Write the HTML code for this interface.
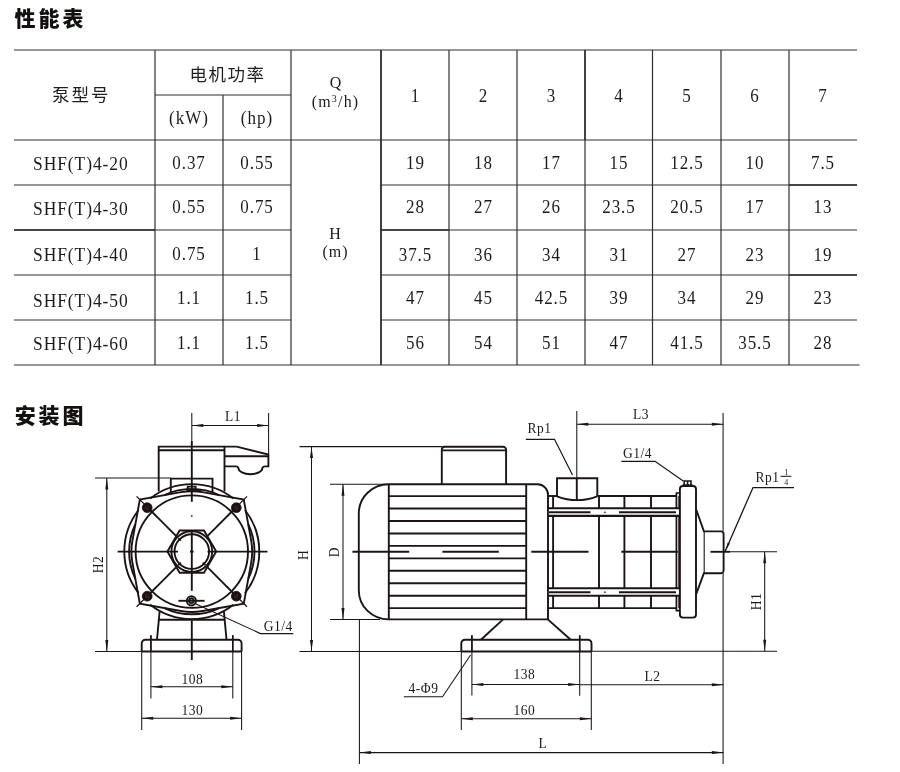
<!DOCTYPE html>
<html lang="zh"><head><meta charset="utf-8"><title>性能表 安装图</title>
<style>
html,body{margin:0;padding:0;background:#fff;}
body{width:900px;height:772px;overflow:hidden;position:relative;}
svg{position:absolute;left:0;top:0;display:block;will-change:transform;}
.s{font-family:"Liberation Serif","Noto Serif CJK SC",serif;fill:#1e1a1a;}
.c{font-family:"Liberation Sans","Noto Sans CJK SC",sans-serif;fill:#221e1e;}
.h{font-family:"Liberation Sans","Noto Sans CJK SC",sans-serif;font-weight:900;fill:#151010;}
</style></head><body>
<svg width="900" height="772" viewBox="0 0 900 772">
<rect width="900" height="772" fill="#fff"/>
<text class="h" x="14.6" y="26.2" font-size="21" letter-spacing="2.9">性能表</text>
<text class="h" x="14.7" y="423.1" font-size="21" letter-spacing="2.9">安装图</text>
<line x1="14.00" y1="50.00" x2="857.00" y2="50.00" stroke="#322e2e" stroke-width="1.2" />
<line x1="155.00" y1="95.00" x2="291.00" y2="95.00" stroke="#322e2e" stroke-width="1.2" />
<line x1="14.00" y1="140.00" x2="857.00" y2="140.00" stroke="#322e2e" stroke-width="1.2" />
<line x1="14.00" y1="185.00" x2="291.00" y2="185.00" stroke="#322e2e" stroke-width="1.2" />
<line x1="381.00" y1="185.00" x2="857.00" y2="185.00" stroke="#322e2e" stroke-width="1.2" />
<line x1="14.00" y1="230.00" x2="291.00" y2="230.00" stroke="#322e2e" stroke-width="1.2" />
<line x1="381.00" y1="230.00" x2="857.00" y2="230.00" stroke="#322e2e" stroke-width="1.2" />
<line x1="14.00" y1="275.00" x2="291.00" y2="275.00" stroke="#322e2e" stroke-width="1.2" />
<line x1="381.00" y1="275.00" x2="857.00" y2="275.00" stroke="#322e2e" stroke-width="1.2" />
<line x1="14.00" y1="320.00" x2="291.00" y2="320.00" stroke="#322e2e" stroke-width="1.2" />
<line x1="381.00" y1="320.00" x2="857.00" y2="320.00" stroke="#322e2e" stroke-width="1.2" />
<line x1="14.00" y1="365.00" x2="859.50" y2="365.00" stroke="#322e2e" stroke-width="1.2" />
<line x1="155.00" y1="50.00" x2="155.00" y2="365.00" stroke="#322e2e" stroke-width="1.2" />
<line x1="223.00" y1="95.00" x2="223.00" y2="365.00" stroke="#322e2e" stroke-width="1.2" />
<line x1="291.00" y1="50.00" x2="291.00" y2="365.00" stroke="#322e2e" stroke-width="1.2" />
<line x1="381.00" y1="50.00" x2="381.00" y2="365.00" stroke="#322e2e" stroke-width="1.2" />
<line x1="449.00" y1="50.00" x2="449.00" y2="365.00" stroke="#322e2e" stroke-width="1.2" />
<line x1="517.00" y1="50.00" x2="517.00" y2="365.00" stroke="#322e2e" stroke-width="1.2" />
<line x1="585.00" y1="50.00" x2="585.00" y2="365.00" stroke="#322e2e" stroke-width="1.2" />
<line x1="652.50" y1="50.00" x2="652.50" y2="365.00" stroke="#322e2e" stroke-width="1.2" />
<line x1="721.00" y1="50.00" x2="721.00" y2="365.00" stroke="#322e2e" stroke-width="1.2" />
<line x1="789.00" y1="50.00" x2="789.00" y2="365.00" stroke="#322e2e" stroke-width="1.2" />
<line x1="381.00" y1="50.00" x2="381.00" y2="365.00" stroke="#2e2a2a" stroke-width="1.5" />
<line x1="585.00" y1="50.00" x2="585.00" y2="140.00" stroke="#2e2a2a" stroke-width="1.4" />
<line x1="14.00" y1="230.00" x2="155.00" y2="230.00" stroke="#2e2a2a" stroke-width="1.5" />
<line x1="381.00" y1="230.00" x2="449.00" y2="230.00" stroke="#2e2a2a" stroke-width="1.5" />
<line x1="789.00" y1="185.00" x2="857.00" y2="185.00" stroke="#2e2a2a" stroke-width="1.5" />
<line x1="789.00" y1="275.00" x2="857.00" y2="275.00" stroke="#2e2a2a" stroke-width="1.5" />
<text class="c" transform="translate(81.20 100.50)" font-size="17.5" text-anchor="middle" letter-spacing="2" >泵型号</text>
<text class="c" transform="translate(227.60 81.00)" font-size="17.5" text-anchor="middle" letter-spacing="1.5" >电机功率</text>
<text class="s" transform="translate(189.00 124.00) scale(1 1.06)" font-size="17" text-anchor="middle" letter-spacing="1.0" >(kW)</text>
<text class="s" transform="translate(257.00 124.00) scale(1 1.06)" font-size="17" text-anchor="middle" letter-spacing="1.0" >(hp)</text>
<text class="s" transform="translate(336.00 88.00) scale(1 1.06)" font-size="16" text-anchor="middle" letter-spacing="1.0" >Q</text>
<text class="s" transform="translate(335.5 107) scale(1 1.06)" font-size="16" text-anchor="middle" letter-spacing="1.2">(m<tspan font-size="10" dy="-5">3</tspan><tspan dy="5">/h)</tspan></text>
<text class="s" transform="translate(335.50 239.00) scale(1 1.06)" font-size="16" text-anchor="middle" letter-spacing="1.0" >H</text>
<text class="s" transform="translate(335.50 256.50) scale(1 1.06)" font-size="16" text-anchor="middle" letter-spacing="1.0" >(m)</text>
<text class="s" transform="translate(415.50 102.00) scale(1 1.06)" font-size="17" text-anchor="middle" letter-spacing="1.0" >1</text>
<text class="s" transform="translate(483.50 102.00) scale(1 1.06)" font-size="17" text-anchor="middle" letter-spacing="1.0" >2</text>
<text class="s" transform="translate(551.50 102.00) scale(1 1.06)" font-size="17" text-anchor="middle" letter-spacing="1.0" >3</text>
<text class="s" transform="translate(619.00 102.00) scale(1 1.06)" font-size="17" text-anchor="middle" letter-spacing="1.0" >4</text>
<text class="s" transform="translate(687.00 102.00) scale(1 1.06)" font-size="17" text-anchor="middle" letter-spacing="1.0" >5</text>
<text class="s" transform="translate(755.00 102.00) scale(1 1.06)" font-size="17" text-anchor="middle" letter-spacing="1.0" >6</text>
<text class="s" transform="translate(823.00 102.00) scale(1 1.06)" font-size="17" text-anchor="middle" letter-spacing="1.0" >7</text>
<text class="s" transform="translate(80.80 170.00) scale(1 1.06)" font-size="17.5" text-anchor="middle" letter-spacing="0.9" >SHF(T)4-20</text>
<text class="s" transform="translate(189.00 169.00) scale(1 1.06)" font-size="17" text-anchor="middle" letter-spacing="1.0" >0.37</text>
<text class="s" transform="translate(257.00 169.00) scale(1 1.06)" font-size="17" text-anchor="middle" letter-spacing="1.0" >0.55</text>
<text class="s" transform="translate(415.50 169.00) scale(1 1.06)" font-size="17" text-anchor="middle" letter-spacing="1.0" >19</text>
<text class="s" transform="translate(483.50 169.00) scale(1 1.06)" font-size="17" text-anchor="middle" letter-spacing="1.0" >18</text>
<text class="s" transform="translate(551.50 169.00) scale(1 1.06)" font-size="17" text-anchor="middle" letter-spacing="1.0" >17</text>
<text class="s" transform="translate(619.00 169.00) scale(1 1.06)" font-size="17" text-anchor="middle" letter-spacing="1.0" >15</text>
<text class="s" transform="translate(687.00 169.00) scale(1 1.06)" font-size="17" text-anchor="middle" letter-spacing="1.0" >12.5</text>
<text class="s" transform="translate(755.00 169.00) scale(1 1.06)" font-size="17" text-anchor="middle" letter-spacing="1.0" >10</text>
<text class="s" transform="translate(823.00 169.00) scale(1 1.06)" font-size="17" text-anchor="middle" letter-spacing="1.0" >7.5</text>
<text class="s" transform="translate(80.80 215.00) scale(1 1.06)" font-size="17.5" text-anchor="middle" letter-spacing="0.9" >SHF(T)4-30</text>
<text class="s" transform="translate(189.00 213.00) scale(1 1.06)" font-size="17" text-anchor="middle" letter-spacing="1.0" >0.55</text>
<text class="s" transform="translate(257.00 213.00) scale(1 1.06)" font-size="17" text-anchor="middle" letter-spacing="1.0" >0.75</text>
<text class="s" transform="translate(415.50 213.00) scale(1 1.06)" font-size="17" text-anchor="middle" letter-spacing="1.0" >28</text>
<text class="s" transform="translate(483.50 213.00) scale(1 1.06)" font-size="17" text-anchor="middle" letter-spacing="1.0" >27</text>
<text class="s" transform="translate(551.50 213.00) scale(1 1.06)" font-size="17" text-anchor="middle" letter-spacing="1.0" >26</text>
<text class="s" transform="translate(619.00 213.00) scale(1 1.06)" font-size="17" text-anchor="middle" letter-spacing="1.0" >23.5</text>
<text class="s" transform="translate(687.00 213.00) scale(1 1.06)" font-size="17" text-anchor="middle" letter-spacing="1.0" >20.5</text>
<text class="s" transform="translate(755.00 213.00) scale(1 1.06)" font-size="17" text-anchor="middle" letter-spacing="1.0" >17</text>
<text class="s" transform="translate(823.00 213.00) scale(1 1.06)" font-size="17" text-anchor="middle" letter-spacing="1.0" >13</text>
<text class="s" transform="translate(80.80 261.00) scale(1 1.06)" font-size="17.5" text-anchor="middle" letter-spacing="0.9" >SHF(T)4-40</text>
<text class="s" transform="translate(189.00 259.50) scale(1 1.06)" font-size="17" text-anchor="middle" letter-spacing="1.0" >0.75</text>
<text class="s" transform="translate(257.00 259.50) scale(1 1.06)" font-size="17" text-anchor="middle" letter-spacing="1.0" >1</text>
<text class="s" transform="translate(415.50 261.00) scale(1 1.06)" font-size="17" text-anchor="middle" letter-spacing="1.0" >37.5</text>
<text class="s" transform="translate(483.50 261.00) scale(1 1.06)" font-size="17" text-anchor="middle" letter-spacing="1.0" >36</text>
<text class="s" transform="translate(551.50 261.00) scale(1 1.06)" font-size="17" text-anchor="middle" letter-spacing="1.0" >34</text>
<text class="s" transform="translate(619.00 261.00) scale(1 1.06)" font-size="17" text-anchor="middle" letter-spacing="1.0" >31</text>
<text class="s" transform="translate(687.00 261.00) scale(1 1.06)" font-size="17" text-anchor="middle" letter-spacing="1.0" >27</text>
<text class="s" transform="translate(755.00 261.00) scale(1 1.06)" font-size="17" text-anchor="middle" letter-spacing="1.0" >23</text>
<text class="s" transform="translate(823.00 261.00) scale(1 1.06)" font-size="17" text-anchor="middle" letter-spacing="1.0" >19</text>
<text class="s" transform="translate(80.80 306.75) scale(1 1.06)" font-size="17.5" text-anchor="middle" letter-spacing="0.9" >SHF(T)4-50</text>
<text class="s" transform="translate(189.00 304.00) scale(1 1.06)" font-size="17" text-anchor="middle" letter-spacing="1.0" >1.1</text>
<text class="s" transform="translate(257.00 304.00) scale(1 1.06)" font-size="17" text-anchor="middle" letter-spacing="1.0" >1.5</text>
<text class="s" transform="translate(415.50 303.50) scale(1 1.06)" font-size="17" text-anchor="middle" letter-spacing="1.0" >47</text>
<text class="s" transform="translate(483.50 303.50) scale(1 1.06)" font-size="17" text-anchor="middle" letter-spacing="1.0" >45</text>
<text class="s" transform="translate(551.50 303.50) scale(1 1.06)" font-size="17" text-anchor="middle" letter-spacing="1.0" >42.5</text>
<text class="s" transform="translate(619.00 303.50) scale(1 1.06)" font-size="17" text-anchor="middle" letter-spacing="1.0" >39</text>
<text class="s" transform="translate(687.00 303.50) scale(1 1.06)" font-size="17" text-anchor="middle" letter-spacing="1.0" >34</text>
<text class="s" transform="translate(755.00 303.50) scale(1 1.06)" font-size="17" text-anchor="middle" letter-spacing="1.0" >29</text>
<text class="s" transform="translate(823.00 303.50) scale(1 1.06)" font-size="17" text-anchor="middle" letter-spacing="1.0" >23</text>
<text class="s" transform="translate(80.80 349.50) scale(1 1.06)" font-size="17.5" text-anchor="middle" letter-spacing="0.9" >SHF(T)4-60</text>
<text class="s" transform="translate(189.00 348.50) scale(1 1.06)" font-size="17" text-anchor="middle" letter-spacing="1.0" >1.1</text>
<text class="s" transform="translate(257.00 348.50) scale(1 1.06)" font-size="17" text-anchor="middle" letter-spacing="1.0" >1.5</text>
<text class="s" transform="translate(415.50 348.50) scale(1 1.06)" font-size="17" text-anchor="middle" letter-spacing="1.0" >56</text>
<text class="s" transform="translate(483.50 348.50) scale(1 1.06)" font-size="17" text-anchor="middle" letter-spacing="1.0" >54</text>
<text class="s" transform="translate(551.50 348.50) scale(1 1.06)" font-size="17" text-anchor="middle" letter-spacing="1.0" >51</text>
<text class="s" transform="translate(619.00 348.50) scale(1 1.06)" font-size="17" text-anchor="middle" letter-spacing="1.0" >47</text>
<text class="s" transform="translate(687.00 348.50) scale(1 1.06)" font-size="17" text-anchor="middle" letter-spacing="1.0" >41.5</text>
<text class="s" transform="translate(755.00 348.50) scale(1 1.06)" font-size="17" text-anchor="middle" letter-spacing="1.0" >35.5</text>
<text class="s" transform="translate(823.00 348.50) scale(1 1.06)" font-size="17" text-anchor="middle" letter-spacing="1.0" >28</text>
<line x1="191.80" y1="413.00" x2="191.80" y2="441.00" stroke="#1c1414" stroke-width="1.05" />
<line x1="268.60" y1="413.00" x2="268.60" y2="454.00" stroke="#1c1414" stroke-width="1.05" />
<line x1="191.80" y1="425.50" x2="268.60" y2="425.50" stroke="#1c1414" stroke-width="1.05" />
<polygon points="191.80,425.50 203.30,424.00 203.30,427.00" fill="#1c1414"/>
<polygon points="268.60,425.50 257.10,427.00 257.10,424.00" fill="#1c1414"/>
<text class="s" transform="translate(233.00 421.00) scale(1 1.09)" font-size="13.5" text-anchor="middle" letter-spacing="0.5" >L1</text>
<path d="M158.7,491.5 V446.6 H236.7 L268.4,454.5 V466.4 H265.3 Q262.9,466.4 262.4,468 A12,6.2 0 0 1 238.4,468 Q237.9,466.4 235.5,466.4 H224.5" stroke="#1c1414" stroke-width="1.9" fill="none" />
<line x1="158.70" y1="450.20" x2="224.50" y2="450.20" stroke="#1c1414" stroke-width="1.9" />
<line x1="224.50" y1="446.60" x2="224.50" y2="491.50" stroke="#1c1414" stroke-width="1.9" />
<line x1="224.50" y1="456.20" x2="268.40" y2="456.20" stroke="#1c1414" stroke-width="1.9" />
<path d="M170.8,492.5 V478.6 H212.5 V492.5" stroke="#1c1414" stroke-width="1.9" fill="none" />
<line x1="191.80" y1="441.00" x2="191.80" y2="501.80" stroke="#1c1414" stroke-width="1.9" />
<circle cx="191.80" cy="516.00" r="0.60" stroke="#1c1414" stroke-width="0.6" fill="#1c1414"/>
<line x1="191.80" y1="530.70" x2="191.80" y2="590.80" stroke="#1c1414" stroke-width="1.9" />
<line x1="191.80" y1="620.30" x2="191.80" y2="660.00" stroke="#1c1414" stroke-width="1.9" />
<line x1="117.60" y1="551.60" x2="178.00" y2="551.60" stroke="#1c1414" stroke-width="1.9" />
<line x1="190.00" y1="551.60" x2="193.60" y2="551.60" stroke="#1c1414" stroke-width="1.9" />
<line x1="207.50" y1="551.60" x2="267.50" y2="551.60" stroke="#1c1414" stroke-width="1.9" />
<circle cx="191.80" cy="551.60" r="56.20" stroke="#1c1414" stroke-width="1.9" fill="none"/>
<path d="M251.23,540.84 L243.77,499.63 L202.56,492.17 A60.4,60.4 0 0 0 181.04,492.17 L139.83,499.63 L132.37,540.84 A60.4,60.4 0 0 0 132.37,562.36 L139.83,603.57 L181.04,611.03 A60.4,60.4 0 0 0 202.56,611.03 L243.77,603.57 L251.23,562.36 A60.4,60.4 0 0 0 251.23,540.84 Z" stroke="#1c1414" stroke-width="1.9" fill="none" />
<path d="M244.99,593.16 A67.5,67.5 0 0 0 244.99,510.04" stroke="#1c1414" stroke-width="1.9" fill="none" />
<path d="M138.61,510.04 A67.5,67.5 0 0 0 138.61,593.16" stroke="#1c1414" stroke-width="1.9" fill="none" />
<path d="M233.36,498.41 A67.5,67.5 0 0 0 150.24,498.41" stroke="#1c1414" stroke-width="1.9" fill="none" />
<path d="M150.24,604.79 A67.5,67.5 0 0 0 233.36,604.79" stroke="#1c1414" stroke-width="1.9" fill="none" />
<path d="M248.24,578.92 A62.7,62.7 0 0 0 248.24,524.28" stroke="#1c1414" stroke-width="1.9" fill="none" />
<path d="M219.12,495.16 A62.7,62.7 0 0 0 164.48,495.16" stroke="#1c1414" stroke-width="1.9" fill="none" />
<path d="M135.36,524.28 A62.7,62.7 0 0 0 135.36,578.92" stroke="#1c1414" stroke-width="1.9" fill="none" />
<path d="M164.48,608.04 A62.7,62.7 0 0 0 219.12,608.04" stroke="#1c1414" stroke-width="1.9" fill="none" />
<circle cx="147.20" cy="507.70" r="4.90" stroke="#1c1414" stroke-width="0.8" fill="#1c1012"/>
<circle cx="147.20" cy="507.70" r="1.50" stroke="#5a4c4c" stroke-width="0.7" fill="none"/>
<circle cx="236.30" cy="507.70" r="4.90" stroke="#1c1414" stroke-width="0.8" fill="#1c1012"/>
<circle cx="236.30" cy="507.70" r="1.50" stroke="#5a4c4c" stroke-width="0.7" fill="none"/>
<circle cx="147.20" cy="596.20" r="4.90" stroke="#1c1414" stroke-width="0.8" fill="#1c1012"/>
<circle cx="147.20" cy="596.20" r="1.50" stroke="#5a4c4c" stroke-width="0.7" fill="none"/>
<circle cx="236.30" cy="596.20" r="4.90" stroke="#1c1414" stroke-width="0.8" fill="#1c1012"/>
<circle cx="236.30" cy="596.20" r="1.50" stroke="#5a4c4c" stroke-width="0.7" fill="none"/>
<line x1="176.00" y1="535.80" x2="150.30" y2="510.10" stroke="#1c1414" stroke-width="1.9" />
<line x1="156.80" y1="516.60" x2="136.60" y2="496.40" stroke="#1c1414" stroke-width="1.25" />
<line x1="207.60" y1="535.80" x2="233.30" y2="510.10" stroke="#1c1414" stroke-width="1.9" />
<line x1="226.80" y1="516.60" x2="247.00" y2="496.40" stroke="#1c1414" stroke-width="1.25" />
<line x1="176.00" y1="567.40" x2="150.30" y2="593.10" stroke="#1c1414" stroke-width="1.9" />
<line x1="156.80" y1="586.60" x2="136.60" y2="606.80" stroke="#1c1414" stroke-width="1.25" />
<line x1="207.60" y1="567.40" x2="233.30" y2="593.10" stroke="#1c1414" stroke-width="1.9" />
<line x1="226.80" y1="586.60" x2="247.00" y2="606.80" stroke="#1c1414" stroke-width="1.25" />
<path d="M216.20,551.60 L204.00,530.47 L179.60,530.47 L167.40,551.60 L179.60,572.73 L204.00,572.73Z" stroke="#1c1414" stroke-width="1.9" fill="none" />
<circle cx="191.80" cy="551.60" r="20.40" stroke="#1c1414" stroke-width="1.9" fill="none"/>
<circle cx="191.80" cy="551.60" r="17.30" stroke="#1c1414" stroke-width="1.9" fill="none"/>
<line x1="180.80" y1="562.60" x2="178.30" y2="565.10" stroke="#1c1414" stroke-width="1.9" />
<line x1="202.80" y1="562.60" x2="205.30" y2="565.10" stroke="#1c1414" stroke-width="1.9" />
<line x1="180.80" y1="540.60" x2="178.30" y2="538.10" stroke="#1c1414" stroke-width="1.9" />
<path d="M186.5,490.3 H201.5 M187.7,490.3 V486.6 H195.6 V490.3" stroke="#1c1414" stroke-width="1.9" fill="none" />
<circle cx="191.40" cy="600.80" r="4.60" stroke="#1c1414" stroke-width="1.9" fill="none"/>
<circle cx="191.40" cy="600.80" r="2.30" stroke="#1c1414" stroke-width="1.9" fill="none"/>
<line x1="178.40" y1="600.80" x2="204.60" y2="600.80" stroke="#1c1414" stroke-width="1.9" />
<line x1="159.60" y1="611.50" x2="157.00" y2="639.50" stroke="#1c1414" stroke-width="1.9" />
<line x1="223.90" y1="611.50" x2="226.50" y2="639.50" stroke="#1c1414" stroke-width="1.9" />
<line x1="158.80" y1="619.70" x2="224.60" y2="619.70" stroke="#1c1414" stroke-width="1.9" />
<path d="M141.7,651.5 V643.4 A3.6,3.6 0 0 1 145.3,639.7 H238 A3.6,3.6 0 0 1 241.6,643.4 V651.5" stroke="#1c1414" stroke-width="1.9" fill="none" />
<line x1="141.70" y1="651.50" x2="241.60" y2="651.50" stroke="#1c1414" stroke-width="1.9" />
<line x1="150.90" y1="635.30" x2="150.90" y2="698.50" stroke="#1c1414" stroke-width="1.05" />
<line x1="232.80" y1="635.30" x2="232.80" y2="698.50" stroke="#1c1414" stroke-width="1.05" />
<line x1="150.90" y1="635.30" x2="150.90" y2="652.00" stroke="#1c1414" stroke-width="1.5999999999999999" />
<line x1="232.80" y1="635.30" x2="232.80" y2="652.00" stroke="#1c1414" stroke-width="1.5999999999999999" />
<line x1="150.90" y1="686.70" x2="232.80" y2="686.70" stroke="#1c1414" stroke-width="1.05" />
<polygon points="150.90,686.70 162.40,685.20 162.40,688.20" fill="#1c1414"/>
<polygon points="232.80,686.70 221.30,688.20 221.30,685.20" fill="#1c1414"/>
<text class="s" transform="translate(192.30 683.70) scale(1 1.09)" font-size="13.5" text-anchor="middle" letter-spacing="0.5" >108</text>
<line x1="141.70" y1="651.50" x2="141.70" y2="730.00" stroke="#1c1414" stroke-width="1.05" />
<line x1="241.60" y1="651.50" x2="241.60" y2="730.00" stroke="#1c1414" stroke-width="1.05" />
<line x1="141.70" y1="718.20" x2="241.60" y2="718.20" stroke="#1c1414" stroke-width="1.05" />
<polygon points="141.70,718.20 153.20,716.70 153.20,719.70" fill="#1c1414"/>
<polygon points="241.60,718.20 230.10,719.70 230.10,716.70" fill="#1c1414"/>
<text class="s" transform="translate(192.30 714.80) scale(1 1.09)" font-size="13.5" text-anchor="middle" letter-spacing="0.5" >130</text>
<line x1="95.00" y1="478.00" x2="170.90" y2="478.00" stroke="#1c1414" stroke-width="1.05" />
<line x1="95.00" y1="651.50" x2="141.70" y2="651.50" stroke="#1c1414" stroke-width="1.05" />
<line x1="106.80" y1="478.00" x2="106.80" y2="651.50" stroke="#1c1414" stroke-width="1.05" />
<polygon points="106.80,478.00 108.30,489.50 105.30,489.50" fill="#1c1414"/>
<polygon points="106.80,651.50 105.30,640.00 108.30,640.00" fill="#1c1414"/>
<text class="s" transform="translate(103.40 564.60) rotate(-90) scale(1 1.09)" font-size="13.5" text-anchor="middle" letter-spacing="0.5" >H2</text>
<path d="M195,603.5 L260.5,633.6 H293.3" stroke="#1c1414" stroke-width="1.05" fill="none" />
<text class="s" transform="translate(278.30 631.00) scale(1 1.09)" font-size="13.5" text-anchor="middle" letter-spacing="0.5" >G1/4</text>
<line x1="299.50" y1="446.60" x2="442.00" y2="446.60" stroke="#1c1414" stroke-width="1.05" />
<line x1="299.50" y1="651.40" x2="461.30" y2="651.40" stroke="#1c1414" stroke-width="1.05" />
<line x1="311.50" y1="446.60" x2="311.50" y2="651.40" stroke="#1c1414" stroke-width="1.05" />
<polygon points="311.50,446.60 313.00,458.10 310.00,458.10" fill="#1c1414"/>
<polygon points="311.50,651.40 310.00,639.90 313.00,639.90" fill="#1c1414"/>
<text class="s" transform="translate(308.00 555.20) rotate(-90) scale(1 1.09)" font-size="13.5" text-anchor="middle" letter-spacing="0" >H</text>
<line x1="330.00" y1="484.30" x2="388.80" y2="484.30" stroke="#1c1414" stroke-width="1.05" />
<line x1="330.00" y1="619.40" x2="380.00" y2="619.40" stroke="#1c1414" stroke-width="1.05" />
<line x1="343.00" y1="484.30" x2="343.00" y2="619.40" stroke="#1c1414" stroke-width="1.05" />
<polygon points="343.00,484.30 344.50,495.80 341.50,495.80" fill="#1c1414"/>
<polygon points="343.00,619.40 341.50,607.90 344.50,607.90" fill="#1c1414"/>
<text class="s" transform="translate(338.50 552.40) rotate(-90) scale(1 1.09)" font-size="13.5" text-anchor="middle" letter-spacing="0" >D</text>
<path d="M441.8,484.3 V449.7 A3,3 0 0 1 444.8,446.7 H503.1 A3,3 0 0 1 506.1,449.7 V484.3" stroke="#1c1414" stroke-width="1.9" fill="none" />
<line x1="441.80" y1="450.40" x2="506.10" y2="450.40" stroke="#1c1414" stroke-width="1.9" />
<path d="M388.8,484.3 H537.5 A10.5,10.5 0 0 1 548,494.8 V619.4 H388.8" stroke="#1c1414" stroke-width="1.9" fill="none" />
<path d="M388.8,484.3 A30,29 0 0 0 358.8,513.3 V590.4 A30,29 0 0 0 388.8,619.4" stroke="#1c1414" stroke-width="1.9" fill="none" />
<line x1="388.80" y1="484.30" x2="388.80" y2="619.40" stroke="#1c1414" stroke-width="1.9" />
<line x1="526.20" y1="484.30" x2="526.20" y2="619.40" stroke="#1c1414" stroke-width="1.9" />
<line x1="388.80" y1="496.10" x2="526.20" y2="496.10" stroke="#1c1414" stroke-width="1.9" />
<line x1="388.80" y1="508.55" x2="526.20" y2="508.55" stroke="#1c1414" stroke-width="1.9" />
<line x1="388.80" y1="521.00" x2="526.20" y2="521.00" stroke="#1c1414" stroke-width="1.9" />
<line x1="388.80" y1="533.45" x2="526.20" y2="533.45" stroke="#1c1414" stroke-width="1.9" />
<line x1="388.80" y1="545.90" x2="526.20" y2="545.90" stroke="#1c1414" stroke-width="1.9" />
<line x1="388.80" y1="558.35" x2="526.20" y2="558.35" stroke="#1c1414" stroke-width="1.9" />
<line x1="388.80" y1="570.80" x2="526.20" y2="570.80" stroke="#1c1414" stroke-width="1.9" />
<line x1="388.80" y1="583.25" x2="526.20" y2="583.25" stroke="#1c1414" stroke-width="1.9" />
<line x1="388.80" y1="595.70" x2="526.20" y2="595.70" stroke="#1c1414" stroke-width="1.9" />
<line x1="388.80" y1="608.15" x2="526.20" y2="608.15" stroke="#1c1414" stroke-width="1.9" />
<line x1="352.40" y1="551.80" x2="409.20" y2="551.80" stroke="#1c1414" stroke-width="1.9" />
<line x1="442.40" y1="551.80" x2="498.80" y2="551.80" stroke="#1c1414" stroke-width="1.9" />
<line x1="531.30" y1="551.80" x2="588.50" y2="551.80" stroke="#1c1414" stroke-width="1.9" />
<line x1="621.30" y1="551.80" x2="677.80" y2="551.80" stroke="#1c1414" stroke-width="1.9" />
<line x1="710.50" y1="551.80" x2="730.00" y2="551.80" stroke="#1c1414" stroke-width="1.9" />
<line x1="730.00" y1="551.80" x2="777.00" y2="551.80" stroke="#1c1414" stroke-width="1.05" />
<line x1="503.10" y1="619.40" x2="480.90" y2="639.70" stroke="#1c1414" stroke-width="1.9" />
<line x1="547.80" y1="619.40" x2="570.70" y2="639.70" stroke="#1c1414" stroke-width="1.9" />
<path d="M461.3,651.5 V643.4 A3.7,3.7 0 0 1 465,639.7 H587.8 A3.7,3.7 0 0 1 591.5,643.4 V651.5" stroke="#1c1414" stroke-width="1.9" fill="none" />
<line x1="461.30" y1="651.50" x2="591.50" y2="651.50" stroke="#1c1414" stroke-width="1.9" />
<line x1="548.00" y1="496.00" x2="557.00" y2="496.00" stroke="#1c1414" stroke-width="1.9" />
<line x1="597.30" y1="496.00" x2="676.60" y2="496.00" stroke="#1c1414" stroke-width="1.9" />
<line x1="548.00" y1="608.10" x2="676.60" y2="608.10" stroke="#1c1414" stroke-width="1.9" />
<line x1="553.10" y1="496.00" x2="553.10" y2="608.10" stroke="#1c1414" stroke-width="1.9" />
<path d="M679.9,493 H676.4 V610.6 H679.9" stroke="#1c1414" stroke-width="1.7" fill="none" />
<line x1="678.40" y1="496.00" x2="678.40" y2="608.00" stroke="#1c1414" stroke-width="0.8" />
<line x1="599.00" y1="496.00" x2="599.00" y2="608.10" stroke="#1c1414" stroke-width="1.9" />
<line x1="624.40" y1="496.00" x2="624.40" y2="608.10" stroke="#1c1414" stroke-width="1.9" />
<line x1="651.00" y1="496.00" x2="651.00" y2="608.10" stroke="#1c1414" stroke-width="1.9" />
<rect x="548.9" y="508.3" width="131" height="7.6" fill="#fff" stroke="none"/>
<line x1="548.00" y1="508.30" x2="679.90" y2="508.30" stroke="#1c1414" stroke-width="2.1" />
<line x1="548.00" y1="515.90" x2="679.90" y2="515.90" stroke="#1c1414" stroke-width="2.1" />
<line x1="549.00" y1="512.30" x2="590.50" y2="512.30" stroke="#1c1414" stroke-width="1.9" />
<line x1="619.00" y1="512.30" x2="676.00" y2="512.30" stroke="#1c1414" stroke-width="1.9" />
<circle cx="604.90" cy="512.30" r="0.60" stroke="#1c1414" stroke-width="0.5" fill="#1c1414"/>
<rect x="548.9" y="588.2" width="131" height="7.6" fill="#fff" stroke="none"/>
<line x1="548.00" y1="588.20" x2="679.90" y2="588.20" stroke="#1c1414" stroke-width="2.1" />
<line x1="548.00" y1="595.80" x2="679.90" y2="595.80" stroke="#1c1414" stroke-width="2.1" />
<line x1="549.00" y1="592.20" x2="590.50" y2="592.20" stroke="#1c1414" stroke-width="1.9" />
<line x1="619.00" y1="592.20" x2="676.00" y2="592.20" stroke="#1c1414" stroke-width="1.9" />
<circle cx="604.90" cy="592.20" r="0.60" stroke="#1c1414" stroke-width="0.5" fill="#1c1414"/>
<path d="M557,496.3 V478.2 H597.3 V496.3" stroke="#1c1414" stroke-width="1.9" fill="none" />
<path d="M557,496.3 Q577,504 597.3,496.3" stroke="#1c1414" stroke-width="1.9" fill="none" />
<line x1="576.80" y1="411.00" x2="576.80" y2="478.00" stroke="#1c1414" stroke-width="1.05" />
<line x1="576.80" y1="478.00" x2="576.80" y2="500.00" stroke="#1c1414" stroke-width="1.9" />
<path d="M679.9,489 A3,3 0 0 1 682.9,486 H693 A3,3 0 0 1 696,489 V614.6 A3,3 0 0 1 693,617.6 H682.9 A3,3 0 0 1 679.9,614.6 Z" stroke="#1c1414" stroke-width="1.9" fill="none" />
<path d="M684.2,486 V481 H691 V486 M687.6,481 V485 M682.6,485.1 H692.6" stroke="#1c1414" stroke-width="1.5999999999999999" fill="none" />
<path d="M696,509 L703.9,531.4 H721 A2.6,2.6 0 0 1 723.6,534 V570.6 A2.6,2.6 0 0 1 721,573.2 H703.9 L696,594.6" stroke="#1c1414" stroke-width="1.9" fill="none" />
<line x1="704.20" y1="531.40" x2="704.20" y2="573.20" stroke="#1c1414" stroke-width="1.1" />
<line x1="723.10" y1="413.00" x2="723.10" y2="531.00" stroke="#1c1414" stroke-width="1.05" />
<line x1="723.10" y1="573.00" x2="723.10" y2="764.00" stroke="#1c1414" stroke-width="1.05" />
<line x1="576.80" y1="424.30" x2="723.40" y2="424.30" stroke="#1c1414" stroke-width="1.05" />
<polygon points="576.80,424.30 588.30,422.80 588.30,425.80" fill="#1c1414"/>
<polygon points="723.40,424.30 711.90,425.80 711.90,422.80" fill="#1c1414"/>
<text class="s" transform="translate(641.00 418.80) scale(1 1.09)" font-size="13.5" text-anchor="middle" letter-spacing="0.5" >L3</text>
<text class="s" transform="translate(539.50 433.30) scale(1 1.09)" font-size="13.5" text-anchor="middle" letter-spacing="0.5" >Rp1</text>
<path d="M525.8,439.3 H554.5 L572.5,475" stroke="#1c1414" stroke-width="1.2" fill="none" />
<text class="s" transform="translate(637.50 458.00) scale(1 1.09)" font-size="13.5" text-anchor="middle" letter-spacing="0.5" >G1/4</text>
<path d="M621.3,461.3 H655 L683.6,481.2" stroke="#1c1414" stroke-width="1.2" fill="none" />
<text class="s" transform="translate(767.50 481.80) scale(1 1.09)" font-size="13.5" text-anchor="middle" letter-spacing="0.5" >Rp1</text>
<text class="s" transform="translate(786.20 474.60) scale(1 1.09)" font-size="8" text-anchor="middle" letter-spacing="0" >1</text>
<text class="s" transform="translate(786.20 484.80) scale(1 1.09)" font-size="8" text-anchor="middle" letter-spacing="0" >4</text>
<line x1="780.60" y1="476.30" x2="791.40" y2="476.30" stroke="#1c1414" stroke-width="1.05" />
<path d="M794,487.6 H753 L725.2,551.2" stroke="#1c1414" stroke-width="1.3" fill="none" />
<polygon points="725.20,551.20 727.70,542.47 729.90,543.43" fill="#1c1414"/>
<line x1="764.70" y1="551.80" x2="764.70" y2="651.30" stroke="#1c1414" stroke-width="1.05" />
<polygon points="764.70,551.80 766.20,563.30 763.20,563.30" fill="#1c1414"/>
<polygon points="764.70,651.30 763.20,639.80 766.20,639.80" fill="#1c1414"/>
<text class="s" transform="translate(760.90 601.60) rotate(-90) scale(1 1.09)" font-size="13.5" text-anchor="middle" letter-spacing="0.5" >H1</text>
<line x1="591.50" y1="651.30" x2="777.00" y2="651.30" stroke="#1c1414" stroke-width="1.05" />
<line x1="359.40" y1="619.40" x2="359.40" y2="764.00" stroke="#1c1414" stroke-width="1.05" />
<line x1="471.90" y1="635.30" x2="471.90" y2="695.60" stroke="#1c1414" stroke-width="1.05" />
<line x1="579.70" y1="635.30" x2="579.70" y2="695.80" stroke="#1c1414" stroke-width="1.05" />
<line x1="471.90" y1="635.30" x2="471.90" y2="652.00" stroke="#1c1414" stroke-width="1.5999999999999999" />
<line x1="579.70" y1="635.30" x2="579.70" y2="652.00" stroke="#1c1414" stroke-width="1.5999999999999999" />
<line x1="471.90" y1="684.40" x2="579.70" y2="684.40" stroke="#1c1414" stroke-width="1.05" />
<polygon points="471.90,684.40 483.40,682.90 483.40,685.90" fill="#1c1414"/>
<polygon points="579.70,684.40 568.20,685.90 568.20,682.90" fill="#1c1414"/>
<text class="s" transform="translate(524.30 679.40) scale(1 1.09)" font-size="13.5" text-anchor="middle" letter-spacing="0.5" >138</text>
<line x1="579.70" y1="684.70" x2="723.40" y2="684.70" stroke="#1c1414" stroke-width="1.05" />
<polygon points="723.40,684.70 711.90,686.20 711.90,683.20" fill="#1c1414"/>
<text class="s" transform="translate(652.50 681.00) scale(1 1.09)" font-size="13.5" text-anchor="middle" letter-spacing="0.5" >L2</text>
<line x1="461.30" y1="651.50" x2="461.30" y2="730.00" stroke="#1c1414" stroke-width="1.05" />
<line x1="591.30" y1="651.50" x2="591.30" y2="730.00" stroke="#1c1414" stroke-width="1.05" />
<line x1="461.30" y1="718.70" x2="591.30" y2="718.70" stroke="#1c1414" stroke-width="1.05" />
<polygon points="461.30,718.70 472.80,717.20 472.80,720.20" fill="#1c1414"/>
<polygon points="591.30,718.70 579.80,720.20 579.80,717.20" fill="#1c1414"/>
<text class="s" transform="translate(524.30 715.00) scale(1 1.09)" font-size="13.5" text-anchor="middle" letter-spacing="0.5" >160</text>
<line x1="359.40" y1="752.60" x2="723.40" y2="752.60" stroke="#1c1414" stroke-width="1.05" />
<polygon points="359.40,752.60 370.90,751.10 370.90,754.10" fill="#1c1414"/>
<polygon points="723.40,752.60 711.90,754.10 711.90,751.10" fill="#1c1414"/>
<text class="s" transform="translate(542.50 748.00) scale(1 1.09)" font-size="13.5" text-anchor="middle" letter-spacing="0" >L</text>
<text class="s" transform="translate(423.50 692.50) scale(1 1.09)" font-size="13.5" text-anchor="middle" letter-spacing="0.5" >4-Φ9</text>
<path d="M403.8,696.8 H442.5 L470.6,655" stroke="#1c1414" stroke-width="1.05" fill="none" />
</svg>
</body></html>
